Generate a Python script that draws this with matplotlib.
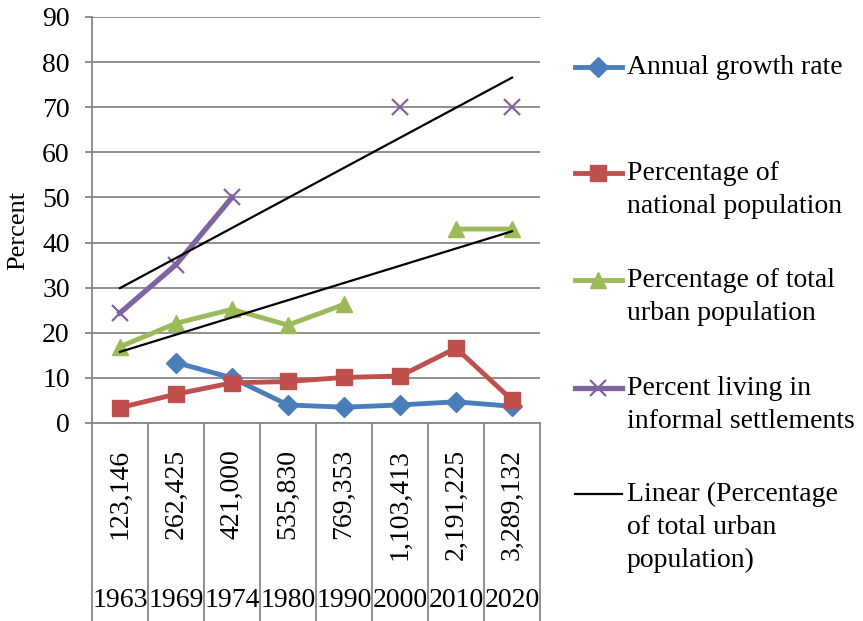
import numpy as np
import matplotlib.pyplot as plt
import matplotlib.transforms as mtrans
from matplotlib.lines import Line2D

plt.rcParams['font.family'] = ['Liberation Serif', 'DejaVu Serif']

years = ["1963", "1969", "1974", "1980", "1990", "2000", "2010", "2020"]
population = ["123,146", "262,425", "421,000", "535,830", "769,353",
              "1,103,413", "2,191,225", "3,289,132"]

growth_rate = [np.nan, 13.4, 10.0, 4.0, 3.5, 4.0, 4.7, 3.7]
pct_national = [3.4, 6.4, 8.9, 9.2, 10.1, 10.4, 16.6, 5.1]
pct_urban = [16.9, 22.1, 25.2, 21.7, 26.3, np.nan, 43.0, 43.0]
pct_informal = [24.4, 35.1, 50.0, np.nan, np.nan, 70.0, np.nan, 70.0]

BLUE = '#4A7EBB'
RED = '#C0504D'
GREEN = '#9BBB59'
PURPLE = '#8064A2'
GRID = '#878787'
W, H = 863, 621
FS = 20

fig = plt.figure(figsize=(W / 100, H / 100), dpi=100)
ax = fig.add_axes([92 / W, 1 - 423 / H, (540 - 92) / W, (423 - 17) / H])

x = np.arange(len(years))
ax.plot(x, growth_rate, color=BLUE, lw=3.5, marker='D', ms=10, zorder=3)
ax.plot(x, pct_national, color=RED, lw=3.5, marker='s', ms=11, zorder=3)
ax.plot(x, pct_urban, color=GREEN, lw=3.5, marker='^', ms=12, zorder=3)
ax.plot(x, pct_informal, color=PURPLE, lw=3.8, marker='x', ms=11, mew=1.6, zorder=3)

# linear trend lines
for series in (pct_urban, pct_informal):
    arr = np.array(series)
    ok = ~np.isnan(arr)
    coef = np.polyfit(x[ok], arr[ok], 1)
    ax.plot(x, np.polyval(coef, x), color='black', lw=1.6, zorder=4)

ax.set_xlim(-0.5, len(years) - 0.5)
ax.set_ylim(0, 90)
ax.set_yticks(range(0, 91, 10))
ax.set_xticks([])
ax.yaxis.grid(True, color=GRID, lw=1.3)
ax.set_axisbelow(True)
for s in ('top', 'right'):
    ax.spines[s].set_visible(False)
for s in ('left', 'bottom'):
    ax.spines[s].set_color(GRID)
    ax.spines[s].set_linewidth(1.3)
ax.tick_params(axis='y', length=5, width=1.3, color=GRID, labelsize=FS, pad=11)

# category table below the axis
blend = mtrans.blended_transform_factory(ax.transData, ax.transAxes)
for b in np.arange(-0.5, len(years), 1.0):
    ax.plot([b, b], [0, -0.5], transform=blend, clip_on=False, color=GRID, lw=1.3)
for i in range(len(years)):
    ax.text(i, -0.064, population[i], rotation=90, ha='center', va='top',
            transform=blend, fontsize=FS)
    ax.text(i, -0.436, years[i], ha='center', va='center',
            transform=blend, fontsize=FS)

fig.text(18 / W, 1 - 230 / H, 'Percent', rotation=90, ha='center', va='center', fontsize=19)

# legend
legend = [
    (BLUE, 'D', 10, 3.5, ['Annual growth rate'], 67),
    (RED, 's', 11, 3.5, ['Percentage of', 'national population'], 173),
    (GREEN, '^', 12, 3.5, ['Percentage of total', 'urban population'], 280),
    (PURPLE, 'x', 11, 3.8, ['Percent living in', 'informal settlements'], 388),
    ('black', None, 0, 1.6, ['Linear (Percentage', 'of total urban', 'population)'], 494),
]
for color, mk, ms, lw, lines, yy in legend:
    fy = 1 - yy / H
    fig.add_artist(Line2D([575 / W, 622 / W], [fy, fy], color=color, lw=lw,
                          transform=fig.transFigure))
    if mk:
        fig.add_artist(Line2D([598 / W], [fy], color=color, marker=mk, ms=ms,
                              mew=1.6 if mk == 'x' else 1, lw=0,
                              transform=fig.transFigure))
    for k, line in enumerate(lines):
        fig.text(627 / W, 1 - (yy + 7 + 33 * k) / H, line, ha='left',
                 va='baseline', fontsize=FS)

fig.savefig('out.png', dpi=100)
